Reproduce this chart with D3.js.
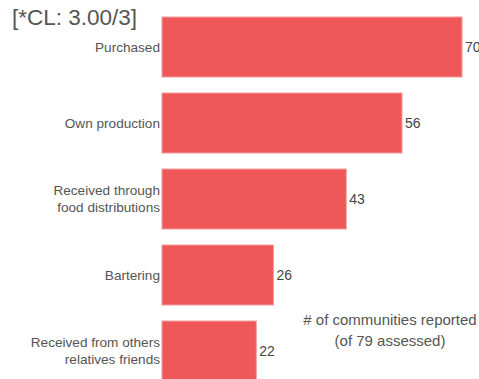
<!DOCTYPE html>
<html>
<head>
<meta charset="utf-8">
<script src="https://cdn.jsdelivr.net/npm/d3@7"></script>
<style>
  body { margin: 0; background: #fff; }
  svg { font-family: "Liberation Sans", Arial, sans-serif; }
</style>
</head>
<body>
<svg id="chart" width="479" height="379"></svg>
<script>
// data
const categories = [
  ["Purchased"],
  ["Own production"],
  ["Received through", "food distributions"],
  ["Bartering"],
  ["Received from others", "relatives friends"]
];
const values = [70, 56, 43, 26, 22];
const title = "[*CL: 3.00/3]";
const note = ["# of communities reported", "(of 79 assessed)"];

const svg = d3.select("#chart");

const padding = { top: 9, left: 162 };
const step = 76;

var xScale = d3.scaleLinear()
  .domain([0, 70])
  .range([padding.left, 462]);

var yScale = d3.scaleBand()
  .domain(d3.range(values.length))
  .range([padding.top, padding.top + step * values.length])
  .paddingInner(16 / 76)
  .paddingOuter(8 / 76);

// bars
svg.selectAll(".bar")
  .data(values)
  .enter()
  .append("rect")
  .attr("class", "bar")
  .attr("x", xScale(0))
  .attr("y", (d, i) => yScale(i))
  .attr("width", d => xScale(d) - xScale(0))
  .attr("height", yScale.bandwidth())
  .attr("fill", "#ee5859")
  .attr("stroke", "#f59c9c")
  .attr("stroke-width", 1);

// value labels (the 70 runs off the edge, as in the original)
svg.selectAll(".val")
  .data(values)
  .enter()
  .append("text")
  .attr("class", "val")
  .attr("x", d => xScale(d) + 3)
  .attr("y", (d, i) => yScale(i) + yScale.bandwidth() / 2)
  .attr("dy", "0.35em")
  .attr("font-size", "14px")
  .attr("fill", "#444")
  .text(d => d);

// category labels
var labels = svg.selectAll(".cat")
  .data(categories)
  .enter()
  .append("text")
  .attr("class", "cat")
  .attr("text-anchor", "end")
  .attr("font-size", "13.6px")
  .attr("fill", "#555")
  .attr("y", (d, i) => yScale(i) + yScale.bandwidth() / 2);

labels.selectAll("tspan")
  .data(d => d.map((t, j) => ({ t, j, n: d.length })))
  .enter()
  .append("tspan")
  .attr("x", padding.left - 2)
  .attr("dy", d => d.j === 0 ? (0.35 - (d.n - 1) * 0.62) + "em" : "1.24em")
  .text(d => d.t);

// title
svg.append("text")
  .attr("x", 12)
  .attr("y", 25)
  .attr("font-size", "22.5px")
  .attr("fill", "#555")
  .text(title);

// note
svg.append("text")
  .attr("text-anchor", "middle")
  .attr("font-size", "15px")
  .attr("fill", "#555")
  .selectAll("tspan")
  .data(note)
  .enter()
  .append("tspan")
  .attr("x", 390)
  .attr("y", (d, i) => 325 + i * 21)
  .text(d => d);
</script>
</body>
</html>
